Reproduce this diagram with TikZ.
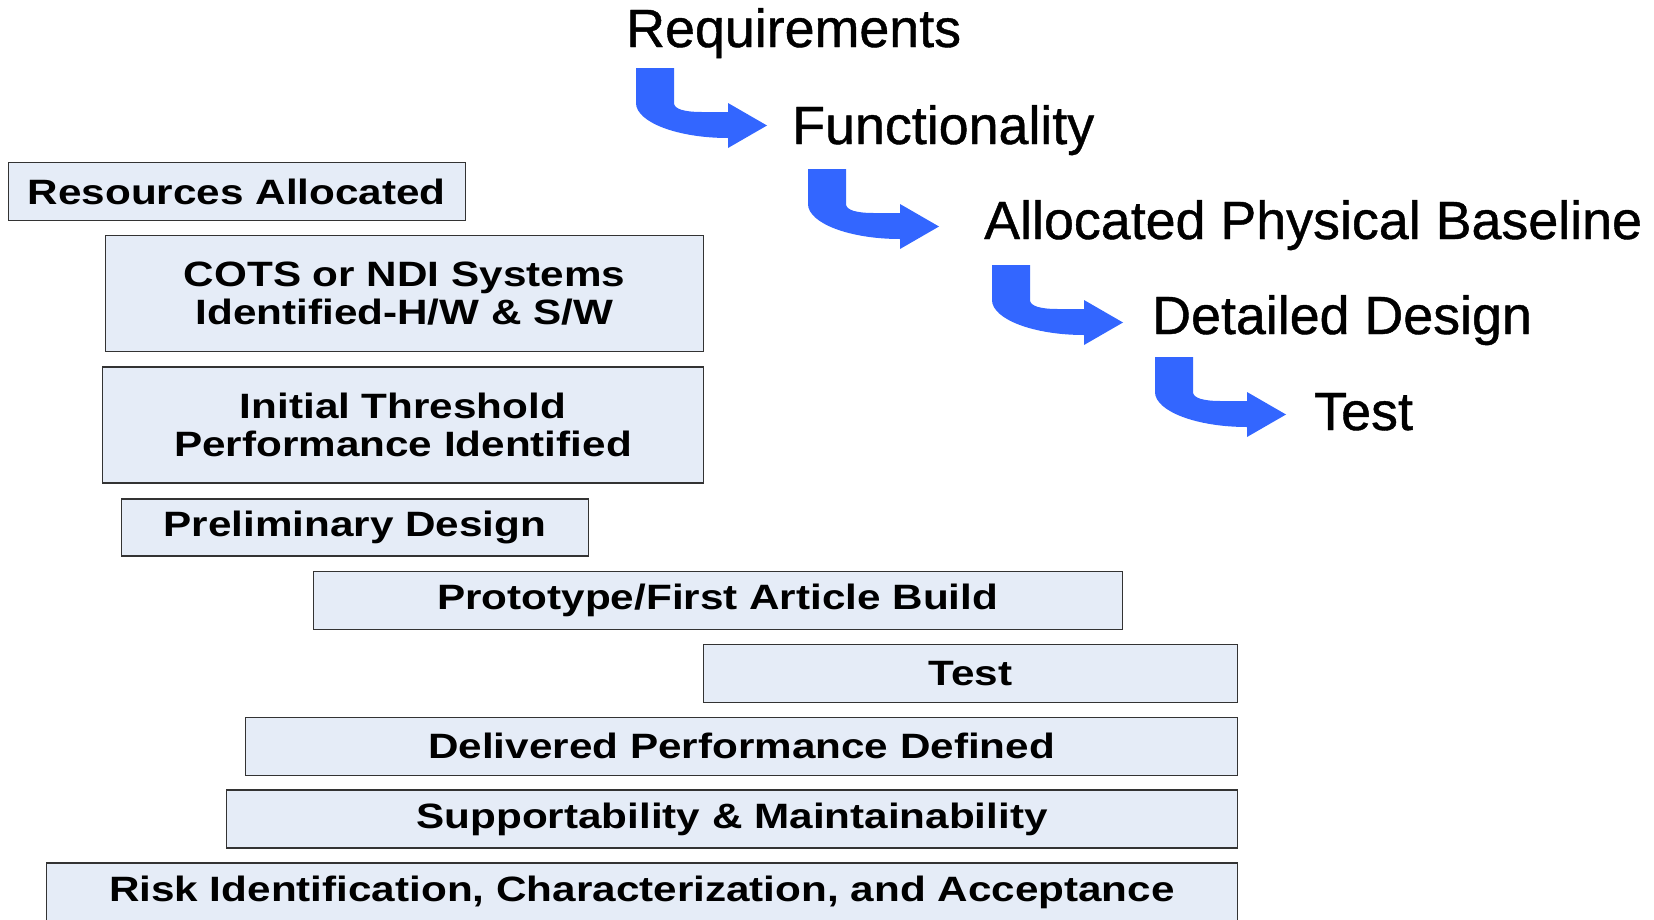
\documentclass[tikz,border=0pt]{standalone}
\usepackage{fontspec}
\setmainfont{Liberation Sans}
\newfontfamily\boxfont[FakeStretch=1.2]{Liberation Sans}
\newfontfamily\hdfont[FakeBold=0.8]{Liberation Sans}
\usetikzlibrary{positioning}
\definecolor{cBOX}{HTML}{E5ECF7}
\definecolor{cARW}{HTML}{3366FF}

\begin{document}
\begin{tikzpicture}[x=1pt, y=-1pt,
  phase/.style={draw=black!80, line width=1.3pt, fill=cBOX, inner sep=0pt, align=center,
    font=\boxfont\bfseries\fontsize{35.2}{38}\selectfont},
  hd/.style={anchor=base west, inner sep=0pt, font=\hdfont\fontsize{53.8}{60}\selectfont},
  bentarrow/.pic={
    \fill[cARW] (0,0) -- (38,0) -- (38,35) .. controls (38,41) and (48,44) .. (66,44)
      -- (92,44) -- (92,35) -- (131,57.5) -- (92,80) -- (92,70)
      .. controls (41,70) and (0,54) .. (0,35) -- cycle;
  }]
\useasboundingbox (0,0) rectangle (1654,919);
% flow of the design definition
\node[hd] (req)  at (626,47)   {Requirements};
\node[hd] (func) at (792,144)  {Functionality};
\node[hd] (apb)  at (984,239)  {Allocated Physical Baseline};
\node[hd] (ddes) at (1152,334) {Detailed Design};
\node[hd] (tst)  at (1314,430) {Test};
\pic at (636,68)  {bentarrow};
\pic at (808,169) {bentarrow};
\pic at (992,265) {bentarrow};
\pic at (1155,357) {bentarrow};
% activity bars
\node[phase, minimum width=456.8pt, minimum height=58pt]  (resalloc) at (236.8,191.5) {Resources Allocated};
\node[phase, minimum width=598.1pt, minimum height=116pt] (cots)     at (404.5,293.2) {COTS or NDI Systems\\Identified-H/W \& S/W};
\node[phase, minimum width=601.3pt, minimum height=116pt] (thresh)   at (403,425.1)   {Initial Threshold\\Performance Identified};
\node[phase, minimum width=467.3pt, minimum height=57pt]  (prelim)   at (355,527.5)   {Preliminary Design};
\node[phase, minimum width=809.1pt, minimum height=58pt]  (proto)    at (717.8,600.8) {Prototype/First Article Build};
\node[phase, minimum width=533.8pt, minimum height=58pt]  (boxtest)  at (970.5,673.6) {Test};
\node[phase, minimum width=991.6pt, minimum height=58pt]  (delperf)  at (741.6,746.3) {Delivered Performance Defined};
\node[phase, minimum width=1010.6pt, minimum height=58pt] (support)  at (732.1,819.1) {Supportability \& Maintainability};
\node[phase, minimum width=1191pt, minimum height=58pt]   (risk)     at (641.9,891.9) {Risk Identification, Characterization, and Acceptance};
\end{tikzpicture}
\end{document}
